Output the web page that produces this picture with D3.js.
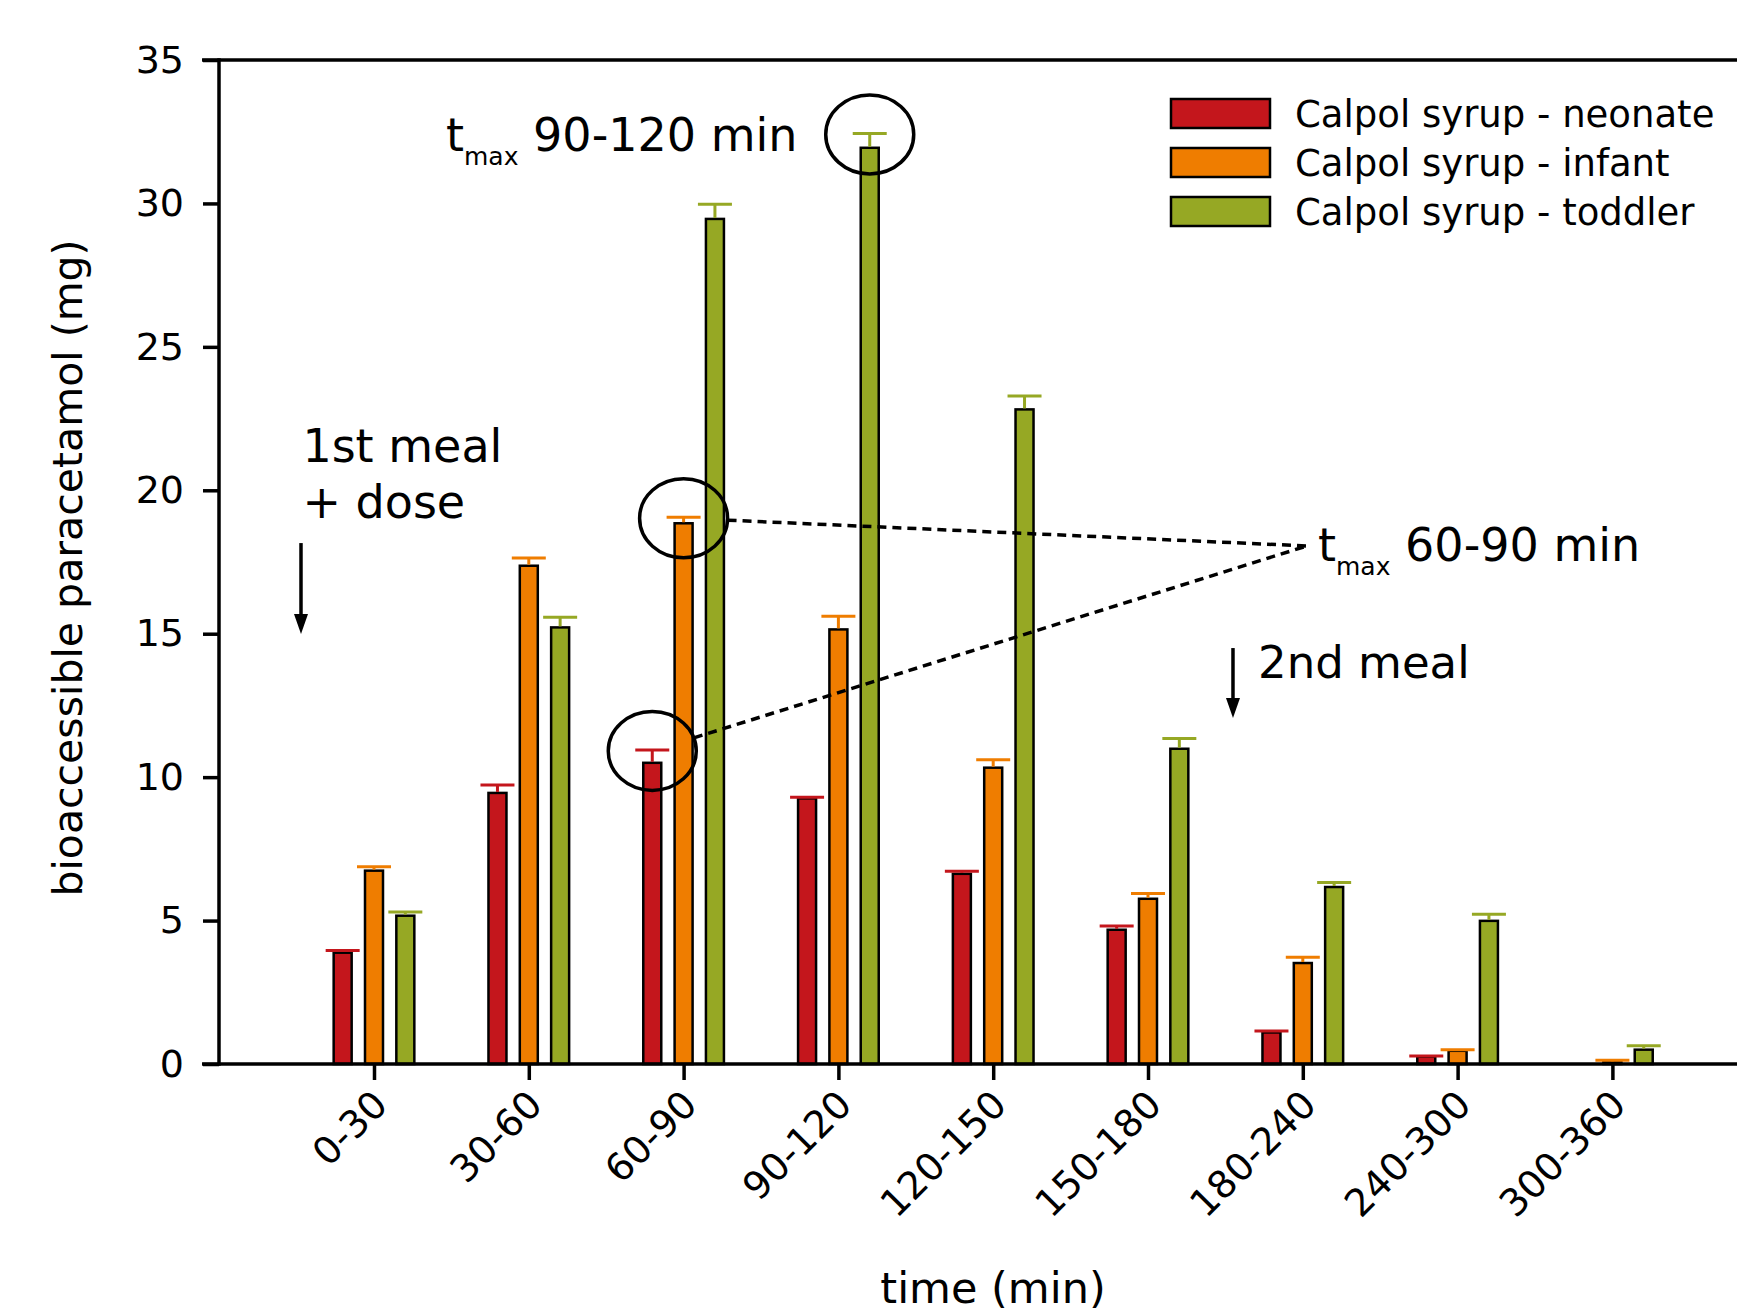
<!DOCTYPE html>
<html>
<head>
<meta charset="utf-8">
<script src="https://cdn.jsdelivr.net/npm/d3@7"></script>
<style>
  body { margin: 0; background: #fff; }
  svg { display: block; font-family: "DejaVu Sans", sans-serif; }
</style>
</head>
<body>
<div id="plot"></div>
<script>
// data
const categories = ["0-30", "30-60", "60-90", "90-120", "120-150", "150-180", "180-240", "240-300", "300-360"];
const seriesNames = ["Calpol syrup - neonate", "Calpol syrup - infant", "Calpol syrup - toddler"];
const seriesColors = ["#c4161c", "#ef7d00", "#96a824"];
const neonate    = [3.88, 9.45, 10.50, 9.26, 6.63, 4.68, 1.10, 0.26, 0];
const neonateErr = [0.08, 0.28, 0.45, 0.04, 0.09, 0.13, 0.05, 0.02, 0];
const infant     = [6.74, 17.37, 18.85, 15.15, 10.33, 5.76, 3.52, 0.46, 0.06];
const infantErr  = [0.14, 0.27, 0.21, 0.46, 0.28, 0.18, 0.20, 0.04, 0.07];
const toddler    = [5.17, 15.22, 29.46, 31.94, 22.82, 10.99, 6.17, 4.99, 0.50];
const toddlerErr = [0.13, 0.35, 0.51, 0.50, 0.47, 0.36, 0.16, 0.23, 0.14];
const yTicks = [0, 5, 10, 15, 20, 25, 30, 35];

const width = 1737, height = 1312;
const axisX = 219;            // y axis position
const barWidth = 18;
const lineW = 3.5;

const values = [neonate, infant, toddler];
const errors = [neonateErr, infantErr, toddlerErr];

const svg = d3.select("#plot")
    .append("svg")
    .attr("width", width)
    .attr("height", height);

// scales
const y = d3.scaleLinear().domain([0, 35]).range([1064, 60]);
const x = d3.scalePoint().domain(categories).range([374, 1612.4]);
const xi = d3.scaleLinear().domain([0, categories.length - 1]).range([374, 1612.4]); // index -> px, for notes
const xSeries = d3.scaleBand().domain(seriesNames).range([-47, 47]);

// flat table built from the arrays
let table = [];
categories.forEach(function(c, i) {
    seriesNames.forEach(function(s, j) {
        table.push({cat: c, series: s, idx: j, v: values[j][i], e: errors[j][i]});
    });
});
function barX(d) { return x(d.cat) + xSeries(d.series) + xSeries.bandwidth() / 2; }

// top frame line runs to the edge
svg.append("line")
    .attr("x1", axisX - 17).attr("x2", width)
    .attr("y1", y(35)).attr("y2", y(35))
    .attr("stroke", "#000").attr("stroke-width", lineW);

// y axis
let yAxis = svg.append("g")
    .attr("transform", "translate(" + axisX + ",0)")
    .call(d3.axisLeft(y).tickValues(yTicks).tickSize(16).tickPadding(19).tickFormat(d3.format("d")));
yAxis.select(".domain").remove();
yAxis.selectAll("line").attr("stroke", "#000").attr("stroke-width", lineW);
yAxis.selectAll("text").attr("font-size", 38).attr("fill", "#000")
    .attr("font-family", "DejaVu Sans");
svg.append("line")
    .attr("x1", axisX).attr("x2", axisX)
    .attr("y1", y(35) - 1.75).attr("y2", y(0) + 1.75)
    .attr("stroke", "#000").attr("stroke-width", lineW);

// x axis
let xAxis = svg.append("g")
    .attr("transform", "translate(0," + y(0) + ")")
    .call(d3.axisBottom(x).tickSize(16));
xAxis.select(".domain").remove();
xAxis.selectAll("line").attr("stroke", "#000").attr("stroke-width", lineW);
xAxis.selectAll("text")
    .attr("font-size", 38).attr("fill", "#000").attr("font-family", "DejaVu Sans")
    .attr("text-anchor", "end")
    .attr("x", 0).attr("y", 0).attr("dy", 0)
    .attr("transform", "translate(15,43) rotate(-45)");

// bars
svg.selectAll(".bars")
    .data(table.filter(function(d) { return d.v > 0; }))
    .enter()
    .append("rect")
    .attr("class", "bars")
    .attr("x", function(d) { return barX(d) - barWidth / 2; })
    .attr("y", function(d) { return y(d.v); })
    .attr("width", barWidth)
    .attr("height", function(d) { return y(0) - y(d.v); })
    .attr("fill", function(d) { return seriesColors[d.idx]; })
    .attr("stroke", "#000")
    .attr("stroke-width", 2.5);

// error bars (upper only)
let errG = svg.selectAll(".err")
    .data(table.filter(function(d) { return d.v > 0; }))
    .enter()
    .append("g")
    .attr("class", "err")
    .attr("stroke", function(d) { return seriesColors[d.idx]; })
    .attr("stroke-width", 3);
errG.append("line")
    .attr("x1", barX).attr("x2", barX)
    .attr("y1", function(d) { return y(d.v) - 1; })
    .attr("y2", function(d) { return y(d.v + d.e); });
errG.append("line")
    .attr("x1", function(d) { return barX(d) - 17; })
    .attr("x2", function(d) { return barX(d) + 17; })
    .attr("y1", function(d) { return y(d.v + d.e); })
    .attr("y2", function(d) { return y(d.v + d.e); });

// bottom axis line on top of bar bases
svg.append("line")
    .attr("x1", axisX - 17).attr("x2", width)
    .attr("y1", y(0)).attr("y2", y(0))
    .attr("stroke", "#000").attr("stroke-width", lineW);

// axis titles
svg.append("text")
    .attr("x", 993).attr("y", 1303)
    .attr("text-anchor", "middle")
    .attr("font-size", 43)
    .text("time (min)");
svg.append("text")
    .attr("transform", "translate(82," + (y(17.5) + 6) + ") rotate(-90)")
    .attr("text-anchor", "middle")
    .attr("font-size", 41)
    .text("bioaccessible paracetamol (mg)");

// legend
let legend = svg.append("g");
seriesNames.forEach(function(s, i) {
    legend.append("rect")
        .attr("x", 1171).attr("y", 99 + i * 49)
        .attr("width", 99).attr("height", 29)
        .attr("fill", seriesColors[i])
        .attr("stroke", "#000").attr("stroke-width", 2.5);
    legend.append("text")
        .attr("x", 1295).attr("y", 126.5 + i * 49)
        .attr("font-size", 37)
        .text(s);
});

// circles around the t max points
function capPoint(catIdx, sIdx) {
    let d = table[catIdx * 3 + sIdx];
    return [barX(d), y(d.v + d.e)];
}
const circled = [[3, 2], [2, 1], [2, 0]];
circled.forEach(function(p) {
    let c = capPoint(p[0], p[1]);
    svg.append("ellipse")
        .attr("cx", c[0]).attr("cy", c[1] + 1)
        .attr("rx", 44).attr("ry", 39.5)
        .attr("fill", "none").attr("stroke", "#000").attr("stroke-width", 3.5);
});

// dashed leader lines to the 60-90 label
const meet = [xi(6.027), y(18.06)];
[[2, 1], [2, 0]].forEach(function(p) {
    let c = capPoint(p[0], p[1]);
    let dx = meet[0] - c[0], dy = meet[1] - (c[1] + 1);
    let len = Math.sqrt(dx * dx + dy * dy);
    let ux = dx / len, uy = dy / len;
    let t = 1 / Math.sqrt((ux / 44) * (ux / 44) + (uy / 39.5) * (uy / 39.5));
    svg.append("line")
        .attr("x1", c[0] + ux * t).attr("y1", c[1] + 1 + uy * t)
        .attr("x2", meet[0]).attr("y2", meet[1])
        .attr("stroke", "#000").attr("stroke-width", 3.5)
        .attr("stroke-dasharray", "9,6");
});

// text notes
function tmaxLabel(xPos, yPos, rest) {
    let t = svg.append("text").attr("x", xPos).attr("y", yPos).attr("font-size", 46);
    t.append("tspan").text("t");
    t.append("tspan").attr("font-size", 25).attr("dy", 14).text("max");
    t.append("tspan").attr("dy", -14).text(" " + rest);
}
tmaxLabel(xi(0.465), y(31.84), "90-120 min");
tmaxLabel(xi(6.098), y(17.52), "60-90 min");

svg.append("text").attr("x", xi(-0.4625)).attr("y", y(20.97)).attr("font-size", 46).text("1st meal");
svg.append("text").attr("x", xi(-0.4625)).attr("y", y(19.04)).attr("font-size", 46).text("+ dose");
svg.append("text").attr("x", xi(5.711)).attr("y", y(13.47)).attr("font-size", 45).text("2nd meal");

// arrows
function arrow(xPos, yTop, yBottom) {
    svg.append("line")
        .attr("x1", xPos).attr("x2", xPos)
        .attr("y1", yTop).attr("y2", yBottom - 16)
        .attr("stroke", "#000").attr("stroke-width", 3.5);
    svg.append("path")
        .attr("d", "M" + (xPos - 7) + "," + (yBottom - 20) + "L" + (xPos + 7) + "," + (yBottom - 20) + "L" + xPos + "," + yBottom + "Z")
        .attr("fill", "#000");
}
arrow(xi(-0.4716), y(18.16), y(14.99));
arrow(xi(5.549), y(14.50), y(12.06));
</script>
</body>
</html>
